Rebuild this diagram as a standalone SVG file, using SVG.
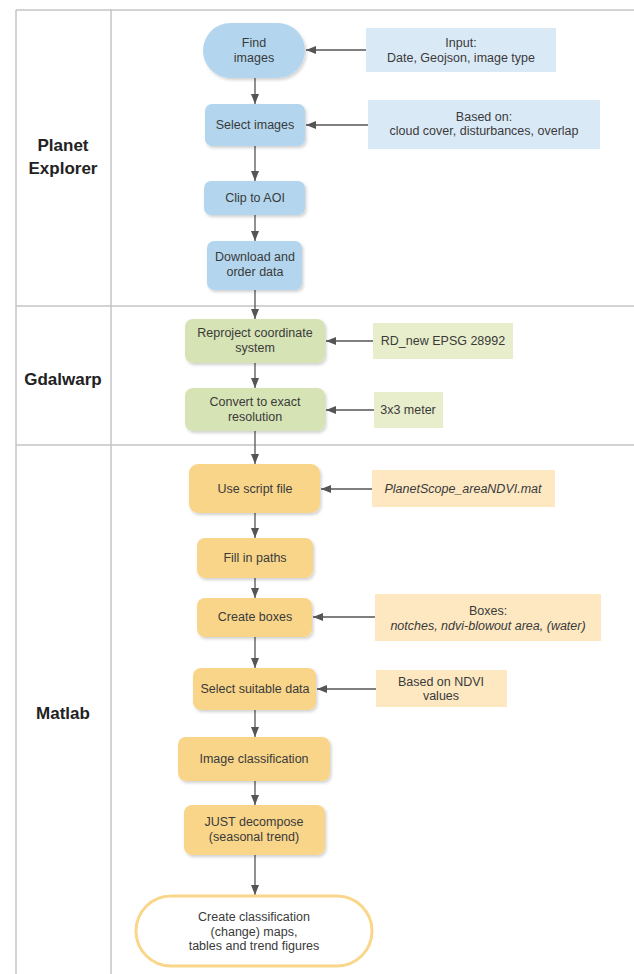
<svg xmlns="http://www.w3.org/2000/svg" width="634" height="974" viewBox="0 0 634 974">
<defs>
<style>
text{font-family:"Liberation Sans",Arial,sans-serif;font-size:12.5px;fill:#3a3a3a;text-anchor:middle}
.lane{font-size:17px;font-weight:bold;fill:#222}
.grid{stroke:#c4c4c4;stroke-width:1.5;fill:none}
.blue{fill:#b3d6ee}
.blueS{fill:#dae9f6}
.green{fill:#d6e3b4}
.greenS{fill:#e8eecb}
.orange{fill:#f9d58a}
.orangeS{fill:#fde8c2}
.node{filter:url(#sh)}
.conn line{stroke:#555;stroke-width:1.3;marker-end:url(#ah)}
.it{font-style:italic}
</style>
<filter id="sh" x="-10%" y="-10%" width="130%" height="130%">
<feDropShadow dx="1.5" dy="2" stdDeviation="1.5" flood-color="#000" flood-opacity="0.18"/>
</filter>
<marker id="ah" viewBox="0 0 10 10" refX="10" refY="5" markerWidth="10" markerHeight="10" markerUnits="userSpaceOnUse" orient="auto">
<path d="M0,1 L10,5 L0,9 Z" fill="#555"/>
</marker>
</defs>
<rect width="634" height="974" fill="#fff"/>
<g id="lanes">
<line class="grid" x1="16" y1="10" x2="634" y2="10"/>
<line class="grid" x1="16" y1="10" x2="16" y2="974"/>
<line class="grid" x1="111" y1="10" x2="111" y2="974"/>
<line class="grid" x1="16" y1="306" x2="634" y2="306"/>
<line class="grid" x1="16" y1="445" x2="634" y2="445"/>
<text class="lane" x="63" y="151">Planet</text>
<text class="lane" x="63" y="174">Explorer</text>
<text class="lane" x="63" y="385">Gdalwarp</text>
<text class="lane" x="63" y="719">Matlab</text>
</g>
<g id="connectors" class="conn">
<line x1="255" y1="78" x2="255" y2="104"/>
<line x1="255" y1="146" x2="255" y2="181"/>
<line x1="255" y1="215" x2="255" y2="241"/>
<line x1="255" y1="290" x2="255" y2="319"/>
<line x1="255" y1="363" x2="255" y2="388"/>
<line x1="255" y1="431" x2="255" y2="464"/>
<line x1="255" y1="513" x2="255" y2="538"/>
<line x1="255" y1="578" x2="255" y2="598"/>
<line x1="255" y1="637" x2="255" y2="668"/>
<line x1="255" y1="710" x2="255" y2="737"/>
<line x1="255" y1="781" x2="255" y2="805"/>
<line x1="255" y1="855" x2="255" y2="895"/>
<line x1="366" y1="50" x2="306" y2="50"/>
<line x1="368" y1="125" x2="306" y2="125"/>
<line x1="373" y1="341" x2="326" y2="341"/>
<line x1="374" y1="410" x2="326" y2="410"/>
<line x1="372" y1="489" x2="321" y2="489"/>
<line x1="375" y1="617" x2="313" y2="617"/>
<line x1="376" y1="689" x2="317" y2="689"/>
</g>
<g id="find-images"><rect class="blue node" x="203" y="23" width="102" height="55" rx="27.5"/><text x="254" y="47">Find</text><text x="254" y="62">images</text></g>
<g id="input"><rect class="blueS" x="366" y="28" width="190" height="44"/><text x="461" y="47">Input:</text><text x="461" y="62">Date, Geojson, image type</text></g>
<g id="select-images"><rect class="blue node" x="205" y="104" width="100" height="42" rx="7"/><text x="255" y="129">Select images</text></g>
<g id="based-on"><rect class="blueS" x="368" y="100" width="232" height="49"/><text x="484" y="121">Based on:</text><text x="484" y="135">cloud cover, disturbances, overlap</text></g>
<g id="clip"><rect class="blue node" x="204" y="181" width="101" height="34" rx="7"/><text x="255" y="202">Clip to AOI</text></g>
<g id="download"><rect class="blue node" x="207" y="241" width="95" height="49" rx="7"/><text x="255" y="261">Download and</text><text x="255" y="276">order data</text></g>
<g id="reproject"><rect class="green node" x="185" y="319" width="140" height="44" rx="8"/><text x="255" y="337">Reproject coordinate</text><text x="255" y="352">system</text></g>
<g id="rd-new"><rect class="greenS" x="373" y="323" width="140" height="36"/><text x="443" y="345">RD_new EPSG 28992</text></g>
<g id="convert"><rect class="green node" x="185" y="388" width="140" height="43" rx="8"/><text x="255" y="406">Convert to exact</text><text x="255" y="421">resolution</text></g>
<g id="meter"><rect class="greenS" x="374" y="392" width="69" height="36"/><text x="408" y="414">3x3 meter</text></g>
<g id="script"><rect class="orange node" x="189" y="464" width="131" height="49" rx="9"/><text x="255" y="493">Use script file</text></g>
<g id="mat"><rect class="orangeS" x="372" y="470" width="183" height="37"/><text class="it" x="463" y="493">PlanetScope_areaNDVI.mat</text></g>
<g id="paths"><rect class="orange node" x="197" y="538" width="116" height="40" rx="8"/><text x="255" y="562">Fill in paths</text></g>
<g id="create-boxes"><rect class="orange node" x="197" y="598" width="115" height="39" rx="8"/><text x="255" y="621">Create boxes</text></g>
<g id="boxes"><rect class="orangeS" x="375" y="594" width="226" height="47"/><text x="488" y="615">Boxes:</text><text class="it" x="488" y="630">notches, ndvi-blowout area, (water)</text></g>
<g id="suitable"><rect class="orange node" x="193" y="668" width="123" height="42" rx="8"/><text x="255" y="693">Select suitable data</text></g>
<g id="ndvi"><rect class="orangeS" x="376" y="670" width="131" height="37"/><text x="441" y="686">Based on NDVI</text><text x="441" y="700">values</text></g>
<g id="classification"><rect class="orange node" x="178" y="737" width="152" height="44" rx="8"/><text x="254" y="763">Image classification</text></g>
<g id="decompose"><rect class="orange node" x="184" y="805" width="141" height="50" rx="8"/><text x="254" y="826">JUST decompose</text><text x="254" y="841">(seasonal trend)</text></g>
<g id="result"><rect x="136" y="896" width="236" height="70" rx="35" fill="#fff" stroke="#fad68a" stroke-width="3"/><text x="254" y="921">Create classification</text><text x="254" y="936">(change) maps,</text><text x="254" y="950">tables and trend figures</text></g>
</svg>
